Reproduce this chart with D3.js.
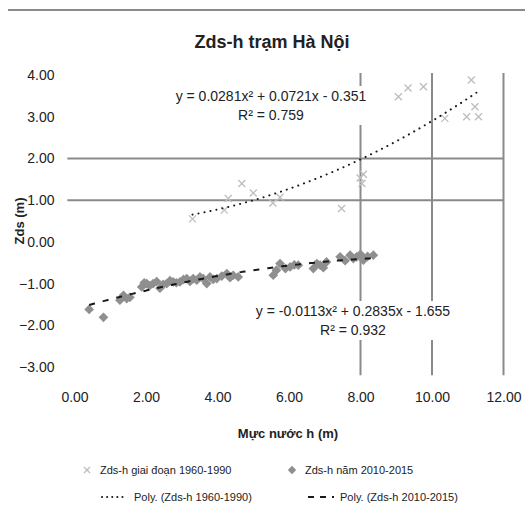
<!DOCTYPE html>
<html>
<head>
<meta charset="utf-8">
<script src="https://cdn.jsdelivr.net/npm/d3@7"></script>
<style>
  body { margin: 0; background: #fff; }
  text { font-family: "Liberation Sans Narrow", "Liberation Sans", Arial, sans-serif; fill: #222; }
</style>
</head>
<body>
<div id="chart"></div>
<script>
// series 1 (x markers) - older data
const oldH = [3.3, 4.19, 4.30, 4.68, 5.0, 5.55, 5.75, 7.47, 7.99, 8.04, 8.08, 9.06, 9.33, 9.76, 10.36, 10.97, 11.1, 11.2, 11.3];
const oldZ = [0.55, 0.76, 1.04, 1.40, 1.17, 0.93, 1.07, 0.80, 1.53, 1.40, 1.62, 3.48, 3.69, 3.72, 2.96, 3.0, 3.88, 3.24, 3.0];

// series 2 (diamonds) - recent data
const newH = [0.41, 0.81, 1.27, 1.37, 1.46, 1.55, 1.88, 1.95, 2.02, 2.1, 2.2, 2.3, 2.39, 2.48, 2.58, 2.67, 2.76, 2.85, 2.95, 3.05, 3.14, 3.23,
              3.32, 3.42, 3.51, 3.6, 3.70, 3.79, 3.88, 3.98, 4.12, 4.26, 4.35, 4.44, 4.58,
              5.56, 5.65, 5.75, 5.9, 6.03, 6.15, 6.26, 6.68, 6.78, 6.87, 6.96, 7.05, 7.43, 7.57, 7.71, 7.8, 7.89, 8.0, 8.08, 8.2, 8.36];
const newZ = [-1.62, -1.81, -1.40, -1.28, -1.36, -1.33, -1.08, -0.98, -1.0, -1.05, -1.0, -0.95, -1.11, -1.02, -1.0, -0.93, -0.96, -0.98, -0.96, -0.9, -0.88, -0.95,
              -0.88, -0.92, -0.84, -0.88, -1.0, -0.84, -0.9, -0.88, -0.82, -0.76, -0.86, -0.8, -0.84,
              -0.80, -0.68, -0.52, -0.64, -0.60, -0.55, -0.56, -0.64, -0.52, -0.56, -0.62, -0.48, -0.36, -0.45, -0.32, -0.4, -0.36, -0.3, -0.44, -0.35, -0.32];

const xTicks = [0, 2, 4, 6, 8, 10, 12];
const yTicks = [-3, -2, -1, 0, 1, 2, 3, 4];
const refX = [8, 10, 12];
const refY = [1, 2];

const title = "Zds-h trạm Hà Nội";
const xTitle = "Mực nước h (m)";
const yTitle = "Zds (m)";
const eqOld = ["y = 0.0281x² + 0.0721x - 0.351", "R² = 0.759"];
const eqNew = ["y = -0.0113x² + 0.2835x - 1.655", "R² = 0.932"];
const legendNames = ["Zds-h giai đoạn 1960-1990", "Zds-h năm 2010-2015",
                     "Poly. (Zds-h 1960-1990)", "Poly. (Zds-h 2010-2015)"];

// quadratic least squares, same as the Excel trendline
function polyFit(xs, ys) {
    const s = [0, 0, 0, 0, 0], t = [0, 0, 0];
    xs.forEach((x, i) => {
        for (let k = 0; k < 5; k++) s[k] += Math.pow(x, k);
        for (let k = 0; k < 3; k++) t[k] += ys[i] * Math.pow(x, k);
    });
    const m = [[s[0], s[1], s[2], t[0]], [s[1], s[2], s[3], t[1]], [s[2], s[3], s[4], t[2]]];
    for (let i = 0; i < 3; i++) {
        for (let j = i + 1; j < 3; j++) {
            const f = m[j][i] / m[i][i];
            for (let k = i; k < 4; k++) m[j][k] -= f * m[i][k];
        }
    }
    const c = [0, 0, 0];
    for (let i = 2; i >= 0; i--) {
        let v = m[i][3];
        for (let k = i + 1; k < 3; k++) v -= m[i][k] * c[k];
        c[i] = v / m[i][i];
    }
    return x => c[0] + c[1] * x + c[2] * x * x;
}

const width = 525, height = 517;
const margin = {top: 75, right: 21.5, bottom: 150, left: 74.5};

const svg = d3.select("#chart").append("svg")
    .attr("width", width)
    .attr("height", height);

const x = d3.scaleLinear().domain([0, 12]).range([margin.left, width - margin.right]);
const y = d3.scaleLinear().domain([-3, 4]).range([height - margin.bottom, margin.top]);

// frame edge at the top
svg.append("line")
    .attr("x1", 8).attr("x2", width).attr("y1", 10).attr("y2", 10)
    .attr("stroke", "#8a8a8a").attr("stroke-width", 2);

svg.append("text")
    .attr("x", 272).attr("y", 48)
    .attr("text-anchor", "middle")
    .style("font-size", "18px").style("font-weight", "bold")
    .text(title);

// axes (labels only, no domain line)
const xAxis = svg.append("g")
    .attr("transform", `translate(0,${height - margin.bottom})`)
    .call(d3.axisBottom(x).tickValues(xTicks).tickFormat(d3.format(".2f")).tickSize(0).tickPadding(25));
const yAxis = svg.append("g")
    .attr("transform", `translate(${margin.left},0)`)
    .call(d3.axisLeft(y).tickValues(yTicks).tickFormat(d3.format(".2f")).tickSize(0).tickPadding(20));
[xAxis, yAxis].forEach(a => {
    a.select(".domain").remove();
    a.selectAll("text").style("font-size", "14px").style("font-family", null).attr("fill", "#222");
});

svg.append("text")
    .attr("x", 288).attr("y", 438)
    .attr("text-anchor", "middle")
    .style("font-size", "13px").style("font-weight", "bold")
    .text(xTitle);

svg.append("text")
    .attr("transform", `translate(24,${y(0.5)}) rotate(-90)`)
    .attr("text-anchor", "middle")
    .style("font-size", "13px").style("font-weight", "bold")
    .text(yTitle);

// drawn reference lines
const refs = svg.append("g").attr("stroke", "#8a8a8a").attr("stroke-width", 2);
refs.selectAll(".vref").data(refX).join("line")
    .attr("x1", d => x(d)).attr("x2", d => x(d))
    .attr("y1", y(4.05)).attr("y2", y(-3.2));
refs.selectAll(".href").data(refY).join("line")
    .attr("x1", x(-0.2)).attr("x2", x(12))
    .attr("y1", d => y(d)).attr("y2", d => y(d));

// markers
const oldPts = oldH.map((h, i) => [h, oldZ[i]]);
const newPts = newH.map((h, i) => [h, newZ[i]]);

svg.append("g").selectAll("path").data(oldPts).join("path")
    .attr("transform", d => `translate(${x(d[0])},${y(d[1])})`)
    .attr("d", "M-3.5,-3.5L3.5,3.5M-3.5,3.5L3.5,-3.5")
    .attr("stroke", "#bdbdbd").attr("stroke-width", 1.3).attr("fill", "none");

svg.append("g").selectAll("path").data(newPts).join("path")
    .attr("transform", d => `translate(${x(d[0])},${y(d[1])})`)
    .attr("d", d3.symbol(d3.symbolDiamond2, 60))
    .attr("fill", "#8f8f8f");

// trendlines
function trend(xs, ys, dash, cap) {
    const f = polyFit(xs, ys);
    const pts = d3.range(d3.min(xs), d3.max(xs) + 0.001, 0.05).map(h => [h, f(h)]);
    svg.append("path")
        .datum(pts)
        .attr("d", d3.line().x(d => x(d[0])).y(d => y(d[1])))
        .attr("fill", "none").attr("stroke", "#1a1a1a").attr("stroke-width", 2)
        .attr("stroke-dasharray", dash).attr("stroke-linecap", cap);
}
trend(oldH, oldZ, "0.1,6", "round");
trend(newH, newZ, "6,8", "butt");

// equation labels on white boxes
function eqLabel(lines, cx, cy) {
    const g = svg.append("g");
    const rect = g.append("rect").attr("fill", "#fff");
    lines.forEach((t, i) => {
        g.append("text")
            .attr("x", cx).attr("y", cy + i * 19)
            .attr("text-anchor", "middle")
            .style("font-size", "14px")
            .text(t);
    });
    const b = g.node().getBBox();
    rect.attr("x", b.x - 4).attr("y", b.y - 2).attr("width", b.width + 8).attr("height", b.height + 4);
}
eqLabel(eqOld, 271, 101);
eqLabel(eqNew, 353, 316);

// legend
const leg = svg.append("g").style("font-size", "11px");
leg.append("path").attr("transform", "translate(87,470)")
    .attr("d", "M-3,-3L3,3M-3,3L3,-3").attr("stroke", "#bdbdbd").attr("stroke-width", 1.3);
leg.append("text").attr("x", 100).attr("y", 474).text(legendNames[0]);
leg.append("path").attr("transform", "translate(292,470)")
    .attr("d", d3.symbol(d3.symbolDiamond2, 45)).attr("fill", "#8f8f8f");
leg.append("text").attr("x", 305).attr("y", 474).text(legendNames[1]);
leg.append("line").attr("x1", 102).attr("x2", 126).attr("y1", 497).attr("y2", 497)
    .attr("stroke", "#1a1a1a").attr("stroke-width", 2).attr("stroke-dasharray", "0.1,5").attr("stroke-linecap", "round");
leg.append("text").attr("x", 134).attr("y", 501).text(legendNames[2]);
leg.append("line").attr("x1", 308).attr("x2", 334).attr("y1", 497).attr("y2", 497)
    .attr("stroke", "#1a1a1a").attr("stroke-width", 2).attr("stroke-dasharray", "6,6");
leg.append("text").attr("x", 340).attr("y", 501).text(legendNames[3]);
</script>
</body>
</html>
